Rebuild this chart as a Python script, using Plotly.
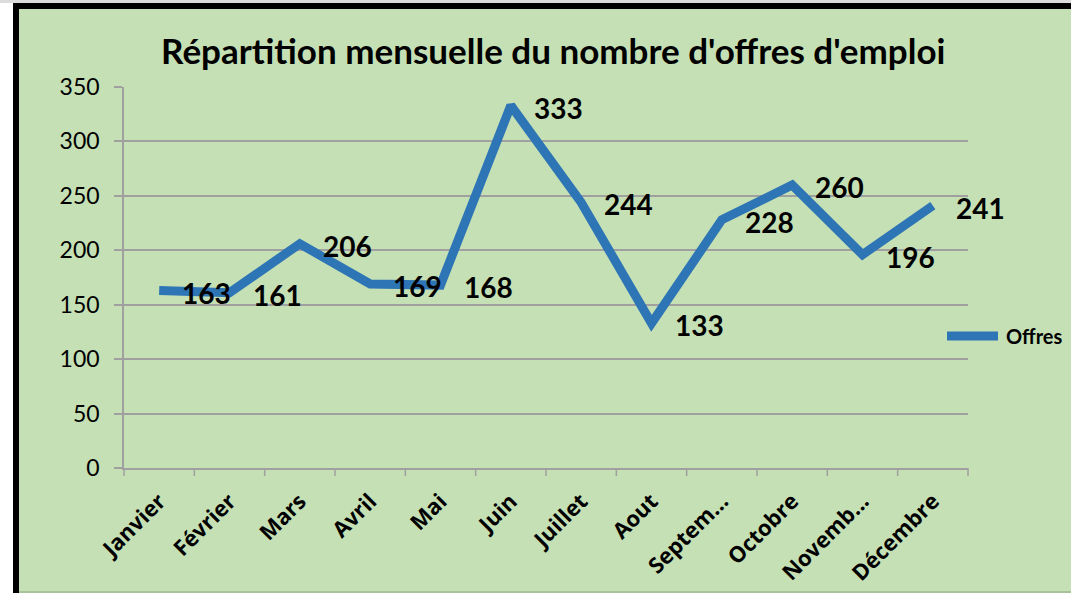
import plotly.graph_objects as go

# Monthly job offer counts
months = ["Janvier", "Février", "Mars", "Avril", "Mai", "Juin", "Juillet",
          "Aout", "Septem...", "Octobre", "Novemb...", "Décembre"]
offres = [163, 161, 206, 169, 168, 333, 244, 133, 228, 260, 196, 241]
y_ticks = [0, 50, 100, 150, 200, 250, 300, 350]
series_name = "Offres"

W, H = 1071, 593
L, R, T, B = 124, 968, 87, 468   # plot area in pixels

GREEN = "#c5e0b4"
BLUE = "#2e75b6"
GRID = "#a0a0a0"


def px_x(p):
    return (p - L) / (R - L)


def px_y(p):
    return (B - p) / (B - T)


fig = go.Figure()
fig.add_trace(go.Scatter(
    x=list(range(len(months))), y=offres, name=series_name,
    mode="lines", line=dict(color=BLUE, width=9), showlegend=False,
))

# value labels to the right of each point
annotations = [
    dict(x=i, y=v, xref="x", yref="y", text=f"<b>{v}</b>", showarrow=False,
         xanchor="left", yanchor="middle", xshift=21, yshift=-2,
         font=dict(family="Lato", size=28, color="black"))
    for i, v in enumerate(offres)
]

# legend entry
annotations.append(dict(x=px_x(1004), y=px_y(336), xref="paper", yref="paper",
                        text=f"<b>{series_name}</b>", showarrow=False,
                        xanchor="left", yanchor="middle",
                        font=dict(family="Lato", size=20, color="black")))

shapes = [
    # white strip at far left
    dict(type="rect", xref="paper", yref="paper", x0=px_x(0), x1=px_x(13),
         y0=px_y(H), y1=px_y(0), fillcolor="white", line_width=0, layer="below"),
    # light top edge
    dict(type="rect", xref="paper", yref="paper", x0=px_x(0), x1=px_x(W),
         y0=px_y(3), y1=px_y(0), fillcolor="#dcdcdc", line_width=0, layer="below"),
    # black frame: top and left
    dict(type="rect", xref="paper", yref="paper", x0=px_x(13), x1=px_x(W),
         y0=px_y(9), y1=px_y(3), fillcolor="black", line_width=0, layer="below"),
    dict(type="rect", xref="paper", yref="paper", x0=px_x(13), x1=px_x(19),
         y0=px_y(H), y1=px_y(3), fillcolor="black", line_width=0, layer="below"),
    # thin bottom edge
    dict(type="line", xref="paper", yref="paper", x0=px_x(19), x1=px_x(W),
         y0=px_y(592), y1=px_y(592), line=dict(color="#9fb893", width=1.5), layer="below"),
    # legend line sample
    dict(type="line", xref="paper", yref="paper", x0=px_x(947), x1=px_x(998),
         y0=px_y(336), y1=px_y(336), line=dict(color=BLUE, width=9)),
]

# category boundary ticks on the x axis
for i in range(len(months) + 1):
    xp = L + (R - L) * i / len(months)
    shapes.append(dict(type="line", xref="paper", yref="paper",
                       x0=px_x(xp), x1=px_x(xp), y0=px_y(B), y1=px_y(B + 8),
                       line=dict(color=GRID, width=1.5), layer="below"))

fig.update_layout(
    width=W, height=H,
    margin=dict(l=L, r=W - R, t=T, b=H - B, autoexpand=False),
    paper_bgcolor=GREEN, plot_bgcolor=GREEN,
    title=dict(text="<b>Répartition mensuelle du nombre d'offres d'emploi</b>",
               x=px_x(560), xanchor="center", y=1 - 52 / H, yanchor="middle",
               font=dict(family="Lato", size=35, color="black")),
    xaxis=dict(range=[-0.5, len(months) - 0.5], tickvals=list(range(len(months))),
               ticktext=months, tickangle=-45, showgrid=False, zeroline=False,
               showline=True, linecolor=GRID, linewidth=1.5, ticks="",
               ticklabelstandoff=10, automargin=False,
               tickfont=dict(family="Open Sans", size=22, color="black", weight="bold")),
    yaxis=dict(range=[0, 350], tickvals=y_ticks, showgrid=True, gridcolor=GRID,
               gridwidth=1.5, zeroline=False, showline=True, linecolor=GRID,
               linewidth=1.5, ticks="outside", ticklen=8, tickcolor=GRID, tickwidth=1.5,
               ticklabelstandoff=10, automargin=False,
               tickfont=dict(family="Lato", size=23, color="black")),
    showlegend=False,
    annotations=annotations,
    shapes=shapes,
)

fig.write_html("out.html")
